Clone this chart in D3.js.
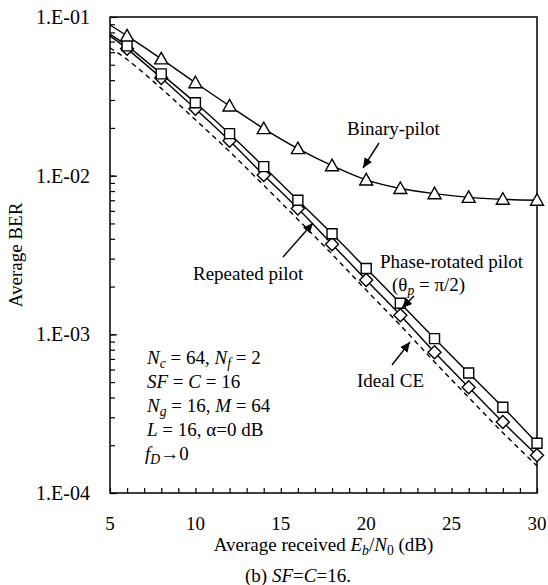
<!DOCTYPE html>
<html><head><meta charset="utf-8">
<script src="https://cdn.jsdelivr.net/npm/d3@7"></script>
<style>body{margin:0;background:#fff}svg{display:block}text{font-family:"Liberation Serif","Times New Roman",serif;fill:#000}</style>
</head><body><svg id="c" width="548" height="585"></svg>
<script>
const snr = [5, 6, 8, 10, 12, 14, 16, 18, 20, 22, 24, 26, 28, 30];
const binaryPilot = [0.089, 0.076, 0.0545, 0.0385, 0.0275, 0.0198, 0.0148, 0.01156, 0.0094, 0.0083, 0.0077, 0.0073, 0.0071, 0.0070];
const phaseRotated = [0.078, 0.0658, 0.0438, 0.0288, 0.0184, 0.0114, 0.0070, 0.0043, 0.0026, 0.00157, 0.00094, 0.00057, 0.000347, 0.000206];
const repeatedPilot = [0.076, 0.063, 0.0413, 0.0264, 0.0166, 0.0101, 0.0062, 0.0037, 0.0022, 0.00132, 0.00077, 0.000464, 0.00028, 0.000173];
const idealCE = [0.064, 0.054, 0.0355, 0.0225, 0.0142, 0.0087, 0.0053, 0.0032, 0.0019, 0.00114, 0.00067, 0.0004, 0.00024, 0.000148];
const xTicks = [5, 10, 15, 20, 25, 30];
const yTickLabels = ["1.E-04", "1.E-03", "1.E-02", "1.E-01"];
const yTickValues = [1e-4, 1e-3, 1e-2, 1e-1];

const L = 110, R = 537, T = 17, B = 493;
const svg = d3.select("#c");
const x = d3.scaleLinear().domain([5, 30]).range([L, R]);
const y = d3.scaleLog().domain([1e-4, 1e-1]).range([B, T]);

const defs = svg.append("defs");
defs.append("marker").attr("id", "ah").attr("viewBox", "0 0 10 10").attr("refX", 10).attr("refY", 5)
  .attr("markerWidth", 10).attr("markerHeight", 10).attr("markerUnits", "userSpaceOnUse").attr("orient", "auto")
  .append("path").attr("d", "M0,0.5 L10,5 L0,9.5 Z").attr("fill", "#000");

// minor ticks
const minorY = [];
for (let e = -4; e <= -2; e++) for (let m = 1; m <= 9; m++) minorY.push(m * Math.pow(10, e));
const gy = svg.append("g").attr("transform", `translate(${L},0)`)
  .call(d3.axisRight(y).tickValues(minorY).tickSize(5).tickFormat(""));
gy.select(".domain").remove();
gy.selectAll("line").attr("stroke", "#000").attr("stroke-width", 1.2);
const gy2 = svg.append("g").attr("transform", `translate(${L},0)`)
  .call(d3.axisRight(y).tickValues(yTickValues).tickSize(7).tickFormat(""));
gy2.select(".domain").remove();
gy2.selectAll("line").attr("stroke", "#000").attr("stroke-width", 1.2);
svg.append("g").selectAll("text").data(yTickValues).join("text")
  .attr("x", L - 20).attr("y", d => y(d)).attr("dy", "0.35em").attr("text-anchor", "end")
  .style("font-size", "20px").text((d, i) => yTickLabels[i]);

const gx = svg.append("g").attr("transform", `translate(0,${B})`)
  .call(d3.axisTop(x).ticks(25).tickSize(5).tickFormat(""));
gx.select(".domain").remove();
gx.selectAll("line").attr("stroke", "#000").attr("stroke-width", 1.2);
svg.append("g").selectAll("text").data(xTicks).join("text")
  .attr("x", d => x(d)).attr("y", B + 37).attr("text-anchor", "middle")
  .style("font-size", "19px").text(d => d);

svg.append("rect").attr("x", L).attr("y", T).attr("width", R - L).attr("height", B - T)
  .attr("fill", "none").attr("stroke", "#000").attr("stroke-width", 1.5);

const line = d3.line().x((d, i) => x(snr[i])).y(d => y(d)).curve(d3.curveCatmullRom);
function series(vals, dash) {
  svg.append("path").datum(vals).attr("d", line).attr("fill", "none").attr("stroke", "#000")
    .attr("stroke-width", 1.4).attr("stroke-dasharray", dash || null);
}
series(idealCE, "5,4");
series(repeatedPilot);
series(phaseRotated);
series(binaryPilot);

function markers(vals, type) {
  const g = svg.append("g");
  const pts = vals.map((v, i) => [x(snr[i]), y(v)]).slice(1);
  let p;
  if (type === "tri") p = "M0,-6.5 L6.5,5 L-6.5,5 Z";
  else if (type === "sq") p = "M-5,-5 H5 V5 H-5 Z";
  else p = "M0,-6.5 L6.5,0 L0,6.5 L-6.5,0 Z";
  g.selectAll("path").data(pts).join("path").attr("d", p)
    .attr("transform", d => `translate(${d[0]},${d[1]})`)
    .attr("fill", "#fff").attr("stroke", "#000").attr("stroke-width", 1.4);
}
markers(repeatedPilot, "dia");
markers(phaseRotated, "sq");
markers(binaryPilot, "tri");

function rich(xp, yp, segs, size, anchor) {
  const t = svg.append("text").attr("x", xp).attr("y", yp).style("font-size", size + "px")
    .attr("text-anchor", anchor || "start");
  segs.forEach(s => {
    const ts = t.append("tspan").text(s.t);
    if (s.i) ts.style("font-style", "italic");
    if (s.sub) ts.attr("baseline-shift", "-25%").style("font-size", (size * 0.72) + "px");
  });
  return t;
}
function arrow(x1, y1, x2, y2) {
  svg.append("line").attr("x1", x1).attr("y1", y1).attr("x2", x2).attr("y2", y2)
    .attr("stroke", "#000").attr("stroke-width", 1.4).attr("marker-end", "url(#ah)");
}

// Labels
rich(347, 135, [{t: "Binary-pilot"}], 19);
arrow(379, 143, 363, 168);
rich(380, 268, [{t: "Phase-rotated pilot"}], 19);
rich(392, 291, [{t: "(θ"}, {t: "p", i: 1, sub: 1}, {t: " = π/2)"}], 19);
arrow(414, 296, 402, 308);
rich(193, 280, [{t: "Repeated pilot"}], 19);
arrow(283, 257, 313, 223);
rich(357, 387, [{t: "Ideal CE"}], 19);
arrow(392, 365, 410, 342);

const px = 147, py0 = 364, dy = 24;
rich(px, py0, [{t: "N", i: 1}, {t: "c", i: 1, sub: 1}, {t: " = 64, "}, {t: "N", i: 1}, {t: "f", i: 1, sub: 1}, {t: " = 2"}], 19);
rich(px, py0 + dy, [{t: "SF", i: 1}, {t: " = "}, {t: "C", i: 1}, {t: " = 16"}], 19);
rich(px, py0 + 2 * dy, [{t: "N", i: 1}, {t: "g", i: 1, sub: 1}, {t: " = 16, "}, {t: "M", i: 1}, {t: " = 64"}], 19);
rich(px, py0 + 3 * dy, [{t: "L", i: 1}, {t: " = 16, α=0 dB"}], 19);
rich(px - 2, py0 + 4 * dy, [{t: "f", i: 1}, {t: "D", i: 1, sub: 1}, {t: "→0"}], 19);

// axis titles
svg.append("text").attr("transform", `translate(22,${(T + B) / 2}) rotate(-90)`).attr("text-anchor", "middle")
  .style("font-size", "19px").text("Average BER");
rich((L + R) / 2, 551, [{t: "Average received  "}, {t: "E", i: 1}, {t: "b", i: 1, sub: 1}, {t: "/"}, {t: "N", i: 1}, {t: "0", sub: 1}, {t: " (dB)"}], 19, "middle");
rich(298, 582, [{t: "(b) "}, {t: "SF", i: 1}, {t: "="}, {t: "C", i: 1}, {t: "=16."}], 19, "middle");
</script></body></html>
